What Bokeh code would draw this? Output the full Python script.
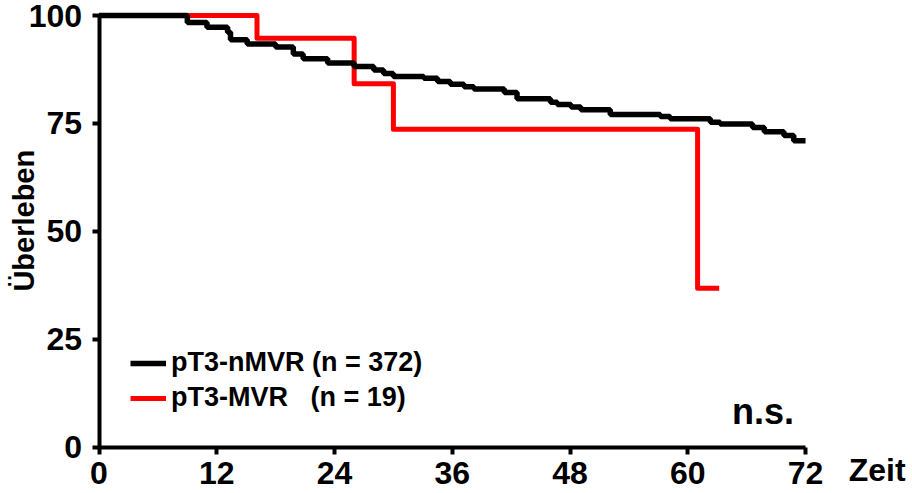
import math
from bokeh.plotting import figure
from bokeh.models import Range1d, FixedTicker, Label, Legend, LegendItem
from bokeh.embed import file_html
from bokeh.resources import INLINE

# ---- data -------------------------------------------------------------
time_ticks = [0, 12, 24, 36, 48, 60, 72]
surv_ticks = [0, 25, 50, 75, 100]

nmvr_label = "pT3-nMVR (n = 372)"
nmvr_time = [0, 9.0, 11.0, 13.1, 13.4, 15.1, 18.0, 19.8, 20.8, 23.3, 26.0, 28.0,
             29.0, 30.0, 33.1, 34.5, 35.8, 37.2, 38.2, 41.3, 42.6, 46.0, 46.7,
             48.1, 49.1, 52.1, 57.2, 58.2, 62.3, 63.3, 66.6, 67.8, 69.8, 70.8, 72.0]
nmvr_surv = [100, 98.4, 97.3, 96.1, 94.4, 93.4, 92.7, 91.1, 90.0, 89.0, 88.2, 87.4,
             86.6, 85.9, 85.5, 84.7, 84.1, 83.5, 83.0, 82.2, 80.7, 79.9, 79.4,
             78.8, 78.2, 77.1, 76.6, 76.1, 75.3, 74.9, 74.1, 73.1, 72.2, 71.0, 71.0]

mvr_label = "pT3-MVR\u00a0\u00a0\u00a0(n = 19)"
mvr_time = [0, 16.1, 26.0, 30.0, 61.0, 63.2]
mvr_surv = [100, 94.74, 84.21, 73.68, 36.84, 36.84]

FONT = "Liberation Sans"

# ---- figure -----------------------------------------------------------
# frame covers the whole canvas; axes are pinned at t = 0 and survival = 0
p = figure(width=912, height=493,
           x_range=Range1d(-10.04, 82.90), y_range=Range1d(-10.65, 103.47),
           output_backend="svg", toolbar_location=None,
           min_border_left=0, min_border_right=0,
           min_border_top=0, min_border_bottom=0)
p.outline_line_color = None
p.grid.visible = False
p.background_fill_color = "white"
p.border_fill_color = "white"

r_red = p.step(mvr_time, mvr_surv, mode="after", line_color="#ff0000",
               line_width=5, line_join="round")
r_black = p.step(nmvr_time, nmvr_surv, mode="after", line_color="#000000",
                 line_width=5.5)

for ax in (p.xaxis[0], p.yaxis[0]):
    ax.fixed_location = 0
    ax.axis_line_width = 4
    ax.axis_line_color = "black"
    ax.major_tick_line_width = 4
    ax.major_tick_line_color = "black"
    ax.major_tick_out = 7
    ax.major_tick_in = 0
    ax.minor_tick_out = 0
    ax.minor_tick_in = 0
    ax.major_label_text_font = FONT
    ax.major_label_text_font_style = "bold"
    ax.major_label_text_font_size = "32px"
    ax.major_label_text_color = "black"

p.xaxis[0].ticker = FixedTicker(ticks=time_ticks)
p.yaxis[0].ticker = FixedTicker(ticks=surv_ticks)
p.xaxis[0].bounds = (0, 72)
p.yaxis[0].bounds = (0, 100)
p.xaxis[0].major_label_standoff = 8
p.yaxis[0].major_label_standoff = 10

legend = Legend(items=[LegendItem(label=nmvr_label, renderers=[r_black]),
                       LegendItem(label=mvr_label, renderers=[r_red])],
                location=(130, 80), padding=0, margin=0, spacing=4,
                glyph_width=36, glyph_height=20, label_standoff=5,
                label_text_font=FONT, label_text_font_style="bold",
                label_text_font_size="27px", label_text_color="black",
                border_line_color=None, background_fill_alpha=0)
p.add_layout(legend)

p.add_layout(Label(x=64.5, y=8.3, text="n.s.", text_font=FONT,
                   text_font_style="bold", text_font_size="36px",
                   text_color="black", text_baseline="alphabetic"))
p.add_layout(Label(x=-7.69, y=52.5, text="Überleben", angle=math.pi / 2,
                   text_font=FONT, text_font_style="bold", text_font_size="29px",
                   text_color="black", text_align="center", text_baseline="middle"))
p.add_layout(Label(x=76.4, y=-5.3, text="Zeit", text_font=FONT,
                   text_font_style="bold", text_font_size="32px",
                   text_color="black", text_baseline="alphabetic"))

open("out.html", "w").write(file_html(p, INLINE))
